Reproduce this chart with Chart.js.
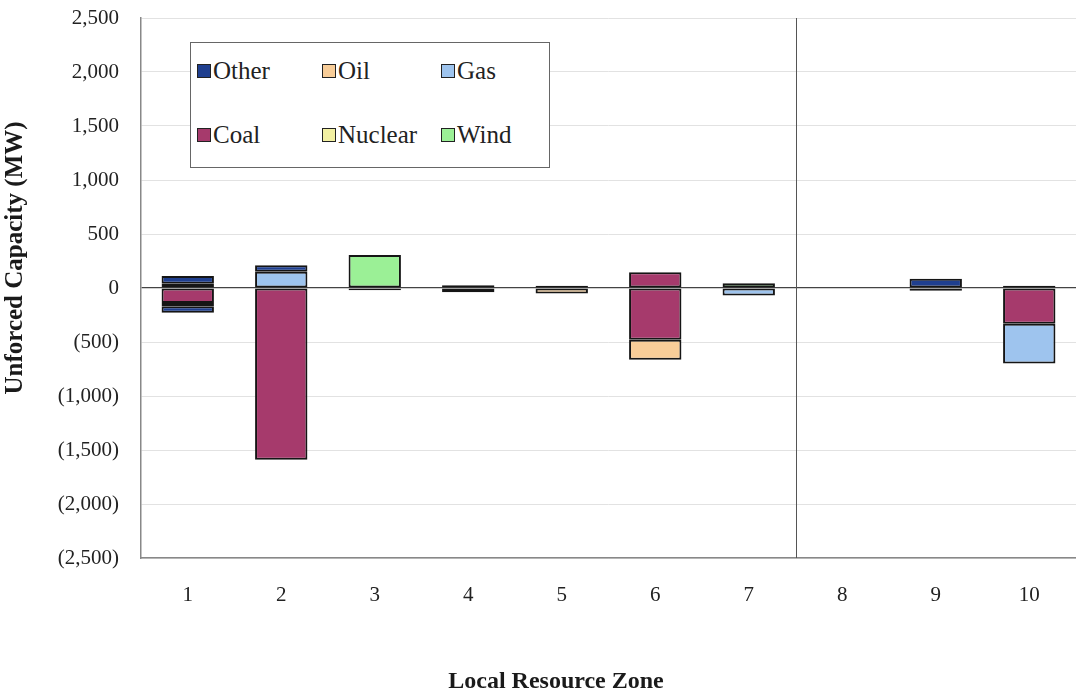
<!DOCTYPE html>
<html>
<head>
<meta charset="utf-8">
<script src="https://cdn.jsdelivr.net/npm/chart.js@4"></script>
<style>
  html, body { margin: 0; padding: 0; background: #fff; }
  #wrap { position: relative; width: 1076px; height: 691px; }
  #legendBox {
    position: absolute; left: 190px; top: 42px; width: 360px; height: 126px;
    border: 1px solid #666; background: #fff; box-sizing: border-box;
    font-family: 'Liberation Serif', 'Times New Roman', serif; font-size: 25px; color: #222;
  }
  .lg-item { position: absolute; display: flex; align-items: center; gap: 2px; }
  .lg-sw { width: 12px; height: 12px; border: 1.5px solid #222; display: inline-block; }
</style>
</head>
<body>
<div id="wrap">
  <canvas id="zoneChart" width="1076" height="691"></canvas>
  <div id="legendBox"></div>
</div>
<script>
// zones and net unforced capacity changes (MW) by fuel
const zones = ['1', '2', '3', '4', '5', '6', '7', '8', '9', '10'];
const coal      = [-140, -1590, 0, 0, 0, -480, 0, 0, -25, -330];
const coalAdded = [0, 0, 0, 0, 0, 145, 0, 0, 0, 0];
const nuclear   = [-30, 0, 0, -40, 0, 0, 0, 0, 0, 0];
const gas       = [40, 150, 0, 0, 0, 0, -70, 0, 0, -370];
const oil       = [0, 0, 0, 0, -50, -185, 0, 0, 0, 0];
const wind      = [0, 0, 305, 25, 0, 0, 45, 0, 0, 0];
const other     = [70, 60, -20, 0, 20, 0, 0, 0, 85, 20];
const otherNeg  = [-60, 0, 0, 0, 0, 0, 0, 0, 0, 0];
const yTicks = [-2500, -2000, -1500, -1000, -500, 0, 500, 1000, 1500, 2000, 2500];

const colors = {
  Other: '#1f3f8f',
  Oil: '#f8cd98',
  Gas: '#9ec4ee',
  Coal: '#a63a6c',
  Nuclear: '#f2f0a2',
  Wind: '#9bf096'
};
const legendOrder = ['Other', 'Oil', 'Gas', 'Coal', 'Nuclear', 'Wind'];

function ds(label, data, color) {
  return {
    label: label,
    data: data,
    backgroundColor: color,
    borderColor: '#151515',
    borderWidth: 2,
    borderSkipped: false,
    barPercentage: 0.56,
    categoryPercentage: 1.0,
    stack: 's'
  };
}

function fmt(v) {
  const s = Math.abs(v).toLocaleString('en-US');
  return v < 0 ? '(' + s + ')' : s;
}

const serif = "'Liberation Serif', 'Times New Roman', serif";

// divider between zones 7 and 8, plus the two axis titles
const dividerPlugin = {
  id: 'divider',
  afterDatasetsDraw(chart) {
    const x = chart.scales.x, ctx = chart.ctx;
    const xm = (x.getPixelForValue(6) + x.getPixelForValue(7)) / 2;
    ctx.save();
    ctx.strokeStyle = '#555';
    ctx.lineWidth = 1;
    ctx.beginPath();
    ctx.moveTo(Math.round(xm) + 0.5, chart.chartArea.top);
    ctx.lineTo(Math.round(xm) + 0.5, chart.chartArea.bottom);
    ctx.stroke();
    ctx.restore();
  },
  afterDraw(chart) {
    const ctx = chart.ctx;
    ctx.save();
    ctx.fillStyle = '#1a1a1a';
    ctx.textAlign = 'center';
    ctx.textBaseline = 'middle';
    ctx.font = "bold 24px " + serif;
    ctx.fillText('Local Resource Zone', 556, 682);
    ctx.translate(16, 258);
    ctx.rotate(-Math.PI / 2);
    ctx.font = "bold 25px " + serif;
    ctx.fillText('Unforced Capacity (MW)', 0, 0);
    ctx.restore();
  }
};

const ctx = document.getElementById('zoneChart').getContext('2d');
const zoneChart = new Chart(ctx, {
  type: 'bar',
  data: {
    labels: zones,
    datasets: [
      ds('Coal', coal, colors.Coal),
      ds('Coal', coalAdded, colors.Coal),
      ds('Nuclear', nuclear, colors.Nuclear),
      ds('Gas', gas, colors.Gas),
      ds('Oil', oil, colors.Oil),
      ds('Wind', wind, colors.Wind),
      ds('Other', other, colors.Other),
      ds('Other', otherNeg, colors.Other)
    ]
  },
  options: {
    responsive: false,
    animation: false,
    layout: { padding: { top: 18, right: 0, left: 0, bottom: 0 } },
    plugins: {
      legend: { display: false },
      tooltip: { enabled: false }
    },
    scales: {
      x: {
        stacked: true,
        grid: { display: false },
        border: { display: true, color: '#888', width: 1.5 },
        ticks: { color: '#222', font: { family: serif, size: 21 }, padding: 17 },
        afterFit(scale) { scale.height = 133; }
      },
      y: {
        stacked: true,
        min: -2500, max: 2500,
        afterBuildTicks(scale) { scale.ticks = yTicks.map(v => ({ value: v })); },
        grid: {
          color: ctx => ctx.tick && ctx.tick.value === 0 ? '#444' : '#e2e2e2',
          lineWidth: ctx => ctx.tick && ctx.tick.value === 0 ? 1.2 : 1,
          drawTicks: false
        },
        border: { display: true, color: '#888', width: 1.5 },
        ticks: {
          color: '#222', font: { family: serif, size: 21 }, padding: 22,
          callback: v => fmt(v)
        },
        afterFit(scale) {
          scale.width = 141;
          scale.paddingTop = 0;
          scale.paddingBottom = 0;
        }
      }
    }
  },
  plugins: [dividerPlugin]
});

// legend laid out as in the original, 3 columns x 2 rows
function buildLegend() {
  const box = document.getElementById('legendBox');
  box.innerHTML = '';
  const colX = [6, 131, 250];
  const rowY = [14, 78];
  legendOrder.forEach((name, i) => {
    const item = document.createElement('div');
    item.className = 'lg-item';
    item.style.left = colX[i % 3] + 'px';
    item.style.top = rowY[Math.floor(i / 3)] + 'px';
    item.innerHTML = `<span class="lg-sw" style="background:${colors[name]}"></span><span>${name}</span>`;
    box.appendChild(item);
  });
}
buildLegend();
</script>
</body>
</html>
